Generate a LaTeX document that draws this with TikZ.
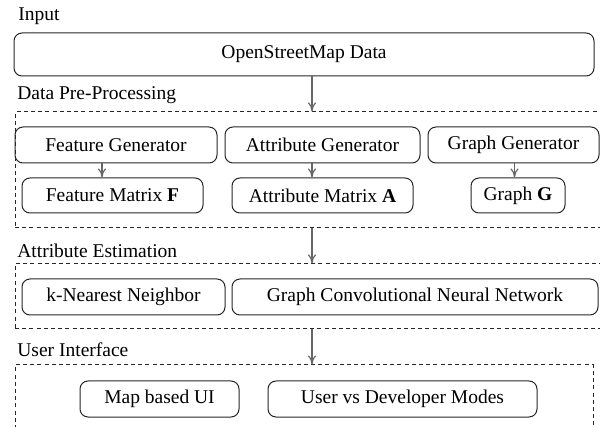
\documentclass[tikz,border=0pt]{standalone}
\usepackage{fontspec}
\setmainfont{LiberationSerif}[Extension=.ttf,UprightFont=*-Regular,BoldFont=*-Bold,ItalicFont=*-Italic,BoldItalicFont=*-BoldItalic]
\usepackage{tikz}
\usetikzlibrary{positioning,arrows.meta}
\tikzset{
  >={To[length=1.6mm,width=1.4mm]},
  blk/.style={draw=black!85,rounded corners=4pt,line width=0.5pt,
    minimum height=18pt,inner sep=0pt},
  grp/.style={draw=black!85,line width=0.5pt,dash pattern=on 2pt off 1.6pt,
    inner sep=0pt},
  grplbl/.style={anchor=base west,inner sep=0pt},
  flow/.style={->,black!60,line width=0.6pt},
}

\begin{document}
\begin{tikzpicture}[x=0.5pt,y=-0.5pt,
    every node/.style={font=\fontsize{9.75}{11.7}\selectfont}]
  \clip (0,0) rectangle (600,427);
  % input
  \node[grplbl] (inlbl) at (18,21) {Input};
  \node[blk,minimum width=290pt,minimum height=21.5pt] (osm) at (304,54.5) {OpenStreetMap Data};
  % data pre-processing
  \node[grplbl] (preplbl) at (17,100) {Data Pre-Processing};
  \node[grp,minimum width=300pt,minimum height=58pt] (prep) at (315,170) {};
  \node[blk,minimum width=101pt] (fgen) at (116,145) {Feature Generator};
  \node[blk,minimum width=97.5pt] (agen) at (322.5,145) {Attribute Generator};
  \node[blk,minimum width=85.5pt] (ggen) at (513.5,145) {Graph Generator};
  \node[blk,minimum width=90.5pt,minimum height=17.5pt] (fmat) at (112.5,195.5) {Feature Matrix \textbf{F}};
  \node[blk,minimum width=90.5pt,minimum height=17.5pt] (amat) at (322.5,195.5) {Attribute Matrix \textbf{A}};
  \node[blk,minimum width=47pt,minimum height=17.5pt] (gmat) at (518,195.5) {Graph \textbf{G}};
  % attribute estimation
  \node[grplbl] (estlbl) at (17,258) {Attribute Estimation};
  \node[grp,minimum width=300pt,minimum height=32.5pt] (est) at (315,296.5) {};
  \node[blk,minimum width=101.5pt] (knn) at (123.5,297) {k-Nearest Neighbor};
  \node[blk,minimum width=183pt] (gcn) at (415,297) {Graph Convolutional Neural Network};
  % user interface
  \node[grplbl] (uilbl) at (17,357) {User Interface};
  \node[grp,minimum width=289pt,minimum height=40pt] (ui) at (304,405) {};
  \node[blk,minimum width=79.5pt] (map) at (159.5,399) {Map based UI};
  \node[blk,minimum width=134.5pt] (modes) at (402.5,399) {User vs Developer Modes};
  % arrows
  \coordinate (cx) at (312,0);
  \coordinate (fx) at (102,0);
  \coordinate (gx) at (514.5,0);
  \draw[flow] (osm.south -| cx) -- (prep.north -| cx);
  \draw[flow] (fgen.south -| fx) -- (fmat.north -| fx);
  \draw[flow] (agen.south -| cx) -- (amat.north -| cx);
  \draw[flow] (ggen.south -| gx) -- (gmat.north -| gx);
  \draw[flow] (prep.south -| cx) -- (est.north -| cx);
  \draw[flow] (est.south -| cx) -- (ui.north -| cx);
\end{tikzpicture}
\end{document}
